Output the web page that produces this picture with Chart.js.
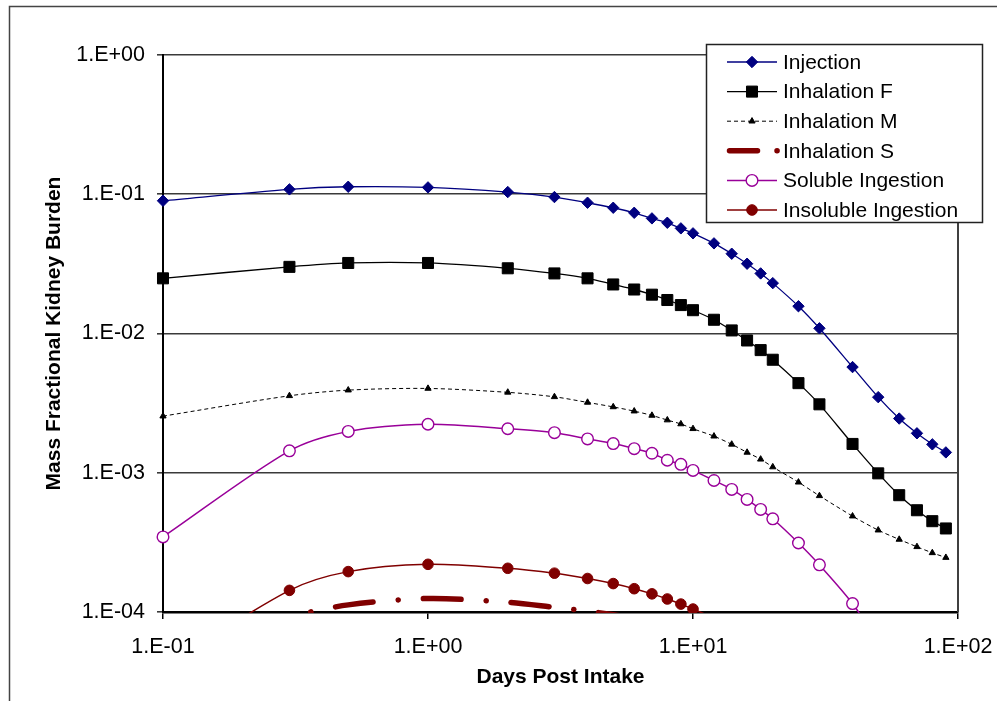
<!DOCTYPE html>
<html>
<head>
<meta charset="utf-8">
<title>Mass Fractional Kidney Burden</title>
<script src="https://cdn.jsdelivr.net/npm/chart.js@4.4.1/dist/chart.umd.min.js"></script>
<style>
    html, body { margin: 0; padding: 0; background: #fff; }
    #wrap { width: 997px; height: 701px; }
</style>
</head>
<body>
<div id="wrap"><canvas id="kidneyChart" width="997" height="701"></canvas></div>
<script>
/* ===== DATA ===== */
const days = [0.1, 0.3, 0.5, 1, 2, 3, 4, 5, 6, 7, 8, 9, 10, 12, 14, 16, 18, 20, 25, 30, 40, 50, 60, 70, 80, 90];

const injection = [0.0898, 0.1084, 0.1132, 0.112, 0.1037, 0.0955, 0.0869, 0.0800, 0.0736, 0.0671, 0.0624, 0.0569, 0.0524,
    0.0444, 0.0374, 0.0317, 0.0270, 0.0230, 0.0157, 0.0109, 0.00574, 0.00349, 0.00245, 0.00192, 0.00160, 0.00140];

const inhalationF = [0.0249, 0.0301, 0.0321, 0.0321, 0.0294, 0.0270, 0.0249, 0.0225, 0.0207, 0.0190, 0.0174, 0.0160, 0.0147,
    0.01255, 0.01052, 0.00891, 0.00760, 0.00648, 0.00440, 0.00310, 0.00161, 0.00099, 0.00069, 0.000538, 0.000449, 0.000398];

const inhalationM = [0.00255, 0.00357, 0.00392, 0.00403, 0.00378, 0.00351, 0.00320, 0.00297, 0.00277, 0.00258, 0.00239, 0.00224, 0.00207,
    0.00183, 0.00160, 0.00140, 0.00125, 0.00110, 0.000855, 0.000683, 0.000488, 0.000387, 0.000332, 0.000294, 0.000266, 0.000246];

const inhalationS = [0.00006, 0.000093, 0.0001125, 0.000125, 0.0001175, 0.000108, 0.0001014, 0.0000955, 0.00009, 0.000085, 0.00008,
    null, null, null, null, null, null, null, null, null, null, null, null, null, null, null];

const solubleIngestion = [0.000346, 0.001436, 0.00198, 0.00223, 0.00207, 0.00194, 0.00175, 0.00162, 0.00149, 0.00138, 0.00123, 0.00115, 0.00104,
    0.00088, 0.000759, 0.000643, 0.000545, 0.000467, 0.000313, 0.000218, 0.000115, 0.00006, null, null, null, null];

const insolubleIngestion = [0.00004, 0.000143, 0.000195, 0.00022, 0.000206, 0.00019, 0.000174, 0.00016, 0.000147, 0.000135, 0.000124, 0.000114, 0.000105,
    0.00009, 0.000075, null, null, null, null, null, null, null, null, null, null, null];

const seriesNames = ['Injection', 'Inhalation F', 'Inhalation M', 'Inhalation S', 'Soluble Ingestion', 'Insoluble Ingestion'];

const xTickValues = [0.1, 1, 10, 100];
const xTickLabels = ['1.E-01', '1.E+00', '1.E+01', '1.E+02'];
const yTickValues = [0.0001, 0.001, 0.01, 0.1, 1];
const yTickLabels = ['1.E-04', '1.E-03', '1.E-02', '1.E-01', '1.E+00'];

/* ===== HELPERS ===== */
const FONT = '"Liberation Sans", Arial, Helvetica, sans-serif';

/**
 * Pair the day values with one series, dropping missing values
 */
function toPoints(values) {
    return days
        .map((d, i) => ({ x: d, y: values[i] }))
        .filter(p => p.y !== null);
}

/**
 * Draw one legend marker in the same shape as the chart points
 */
function drawMarker(ctx, ds, x, y) {
    const r = ds.pointRadius;
    if (!r) return;
    ctx.beginPath();
    if (ds.pointStyle === 'rectRot') {
        ctx.moveTo(x, y - r);
        ctx.lineTo(x + r, y);
        ctx.lineTo(x, y + r);
        ctx.lineTo(x - r, y);
        ctx.closePath();
    } else if (ds.pointStyle === 'rect') {
        const h = r * Math.SQRT1_2;
        ctx.rect(x - h, y - h, 2 * h, 2 * h);
    } else if (ds.pointStyle === 'triangle') {
        ctx.moveTo(x, y - r);
        ctx.lineTo(x + r * 0.866, y + r * 0.5);
        ctx.lineTo(x - r * 0.866, y + r * 0.5);
        ctx.closePath();
    } else {
        ctx.arc(x, y, r, 0, Math.PI * 2);
    }
    ctx.fillStyle = ds.pointBackgroundColor;
    ctx.fill();
    ctx.lineWidth = ds.pointBorderWidth;
    ctx.strokeStyle = ds.pointBorderColor;
    ctx.stroke();
}

/* ===== FRAME + LEGEND PLUGIN ===== */
const frameAndLegend = {
    id: 'frameAndLegend',
    beforeDraw(chart) {
        const ctx = chart.ctx;
        ctx.save();
        ctx.fillStyle = '#fff';
        ctx.fillRect(0, 0, chart.width, chart.height);
        // outer frame (only left and top edges are inside the picture)
        ctx.strokeStyle = '#444';
        ctx.lineWidth = 1.5;
        ctx.beginPath();
        ctx.moveTo(9.5, chart.height + 2);
        ctx.lineTo(9.5, 6.5);
        ctx.lineTo(chart.width + 2, 6.5);
        ctx.stroke();
        ctx.restore();
    },
    beforeDatasetsDraw(chart) {
        // right edge of the plot area
        const { ctx, chartArea } = chart;
        ctx.save();
        ctx.strokeStyle = '#404040';
        ctx.lineWidth = 2;
        ctx.beginPath();
        ctx.moveTo(chartArea.right, chartArea.top);
        ctx.lineTo(chartArea.right, chartArea.bottom);
        ctx.stroke();
        ctx.restore();
    },
    afterDraw(chart) {
        const ctx = chart.ctx;
        const box = { x: 706, y: 44, w: 277, h: 179 };
        ctx.save();
        ctx.fillStyle = '#fff';
        ctx.fillRect(box.x, box.y, box.w, box.h);
        ctx.strokeStyle = '#222';
        ctx.lineWidth = 1.5;
        ctx.strokeRect(box.x + 0.5, box.y + 0.5, box.w - 1, box.h - 1);

        chart.data.datasets.forEach((ds, i) => {
            const y = 62 + i * 29.6;
            ctx.strokeStyle = ds.borderColor;
            ctx.lineWidth = ds.borderWidth;
            ctx.lineCap = ds.borderCapStyle || 'butt';
            ctx.setLineDash(ds.legendDash || ds.borderDash || []);
            ctx.beginPath();
            ctx.moveTo(ds.legendDash ? 729.5 : 727, y);
            ctx.lineTo(ds.legendDash ? 778 : 777, y);
            ctx.stroke();
            ctx.setLineDash([]);
            ctx.lineCap = 'butt';
            drawMarker(ctx, ds, 752, y);

            ctx.fillStyle = '#000';
            ctx.font = '21px ' + FONT;
            ctx.textAlign = 'left';
            ctx.textBaseline = 'middle';
            ctx.fillText(ds.label, 783, y + 1);
        });
        ctx.restore();
    }
};

/* ===== CHART ===== */
const clipBox = { left: 12, top: 12, right: 12, bottom: 1 };

const datasets = [
    {
        label: seriesNames[0],
        data: toPoints(injection),
        borderColor: '#000080',
        borderWidth: 1.3,
        pointStyle: 'rectRot',
        pointRadius: 5.7,
        pointBackgroundColor: '#000080',
        pointBorderColor: '#000080',
        pointBorderWidth: 1
    },
    {
        label: seriesNames[1],
        data: toPoints(inhalationF),
        borderColor: '#000',
        borderWidth: 1.3,
        pointStyle: 'rect',
        pointRadius: 7.8,
        pointBackgroundColor: '#000',
        pointBorderColor: '#000',
        pointBorderWidth: 1
    },
    {
        label: seriesNames[2],
        data: toPoints(inhalationM),
        borderColor: '#000',
        borderWidth: 1,
        borderDash: [4, 3],
        pointStyle: 'triangle',
        pointRadius: 3.6,
        pointBackgroundColor: '#000',
        pointBorderColor: '#000',
        pointBorderWidth: 1
    },
    {
        label: seriesNames[3],
        data: toPoints(inhalationS),
        borderColor: '#800000',
        borderWidth: 5.5,
        borderCapStyle: 'round',
        borderDash: [38, 25, 0.1, 25],
        legendDash: [28, 19.5, 0.1, 60],
        pointRadius: 0,
        pointStyle: 'circle',
        pointBackgroundColor: '#800000',
        pointBorderColor: '#800000',
        pointBorderWidth: 0
    },
    {
        label: seriesNames[4],
        data: toPoints(solubleIngestion),
        borderColor: '#990099',
        borderWidth: 1.5,
        pointStyle: 'circle',
        pointRadius: 5.8,
        pointBackgroundColor: '#fff',
        pointBorderColor: '#990099',
        pointBorderWidth: 1.4
    },
    {
        label: seriesNames[5],
        data: toPoints(insolubleIngestion),
        borderColor: '#800000',
        borderWidth: 1.5,
        pointStyle: 'circle',
        pointRadius: 5.3,
        pointBackgroundColor: '#800000',
        pointBorderColor: '#800000',
        pointBorderWidth: 1
    }
].map(ds => Object.assign({ tension: 0.3, fill: false, clip: clipBox, pointHoverRadius: ds.pointRadius }, ds));

const ctx = document.getElementById('kidneyChart').getContext('2d');

const kidneyChart = new Chart(ctx, {
    type: 'line',
    data: { datasets: datasets },
    options: {
        responsive: false,
        animation: false,
        events: [],
        layout: { padding: { top: 55, right: 39, bottom: 0, left: 0 } },
        plugins: {
            legend: { display: false },
            tooltip: { enabled: false }
        },
        scales: {
            x: {
                type: 'logarithmic',
                min: 0.1,
                max: 100,
                afterBuildTicks: scale => { scale.ticks = xTickValues.map(v => ({ value: v })); },
                afterFit: scale => {
                    scale.height = 89;
                    // let the layout padding decide the plot edges
                    scale.paddingLeft = 0;
                    scale.paddingRight = 0;
                },
                ticks: {
                    autoSkip: false,
                    maxRotation: 0,
                    padding: 15,
                    color: '#000',
                    font: { family: FONT, size: 21.5 },
                    callback: (value, index) => xTickLabels[index]
                },
                grid: {
                    drawOnChartArea: false,
                    drawTicks: true,
                    tickLength: 7,
                    color: '#000',
                    lineWidth: 1.5
                },
                border: { color: '#000', width: 2.5 },
                title: {
                    display: true,
                    text: 'Days Post Intake',
                    color: '#000',
                    font: { family: FONT, size: 21, weight: 'bold' },
                    padding: { top: 0, bottom: 11 }
                }
            },
            y: {
                type: 'logarithmic',
                min: 0.0001,
                max: 1,
                afterBuildTicks: scale => { scale.ticks = yTickValues.map(v => ({ value: v })); },
                afterFit: scale => {
                    scale.width = 163;
                    scale.paddingTop = 0;
                    scale.paddingBottom = 0;
                },
                ticks: {
                    autoSkip: false,
                    padding: 12,
                    color: '#000',
                    font: { family: FONT, size: 21.5 },
                    callback: (value, index) => yTickLabels[index]
                },
                grid: {
                    drawTicks: true,
                    tickLength: 6,
                    color: '#3a3a3a',
                    lineWidth: 1.6
                },
                border: { color: '#000', width: 2 },
                title: {
                    display: true,
                    text: 'Mass Fractional Kidney Burden',
                    color: '#000',
                    font: { family: FONT, size: 21, weight: 'bold' },
                    padding: { top: 41.5, bottom: 0 }
                }
            }
        }
    },
    plugins: [frameAndLegend]
});
</script>
</body>
</html>
